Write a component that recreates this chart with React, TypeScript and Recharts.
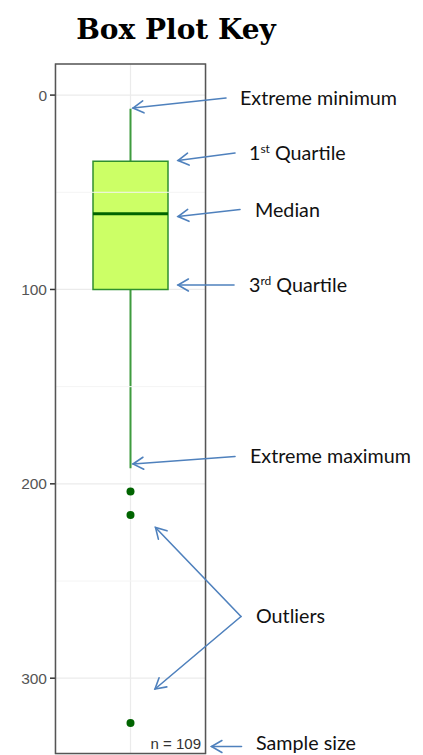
import { Bar, CartesianGrid, ComposedChart, ReferenceLine, Scatter, XAxis, YAxis } from 'recharts'

// box plot values
const categories = ['sample']
const whisker = [7, 192]
const quartiles = [34, 100]
const median = 61
const outliers = [204, 216, 323]
const sampleSize = 109

const yTicks = [0, 100, 200, 300]
const minorTicks = [50, 150, 250]

const BOX_FILL = '#ccff66'
const BOX_STROKE = '#2f8f2f'
const WHISKER = '#3f9b3f'
const DARK_GREEN = '#006400'
const ARROW = '#4f81bd'

const data = categories.map((label) => ({ label, whisker, box: quartiles }))
const medianPoints = [{ x: 1, y: median }]
const outlierPoints = outliers.map((y) => ({ x: 1, y }))

const CHART_W = 415
const CHART_H = 747
const margin = { top: 56, right: 217, bottom: 1, left: 0 }
const Y_AXIS_W = 47
const BOX_W = 75

function WhiskerShape(props: any) {
  const { x, y, width, height } = props
  const cx = x + width / 2
  return <line x1={cx} x2={cx} y1={y} y2={y + height} stroke={WHISKER} strokeWidth={2} />
}

function MedianShape(props: any) {
  const { cx, cy } = props
  return <line x1={cx - BOX_W / 2} x2={cx + BOX_W / 2} y1={cy} y2={cy} stroke={DARK_GREEN} strokeWidth={3} />
}

function Dot(props: any) {
  return <circle cx={props.cx} cy={props.cy} r={4} fill={DARK_GREEN} />
}

function Arrow({ from, to }: { from: [number, number]; to: [number, number] }) {
  const ang = Math.atan2(to[1] - from[1], to[0] - from[0])
  const len = 12
  const spread = Math.PI / 6
  const l1 = [to[0] - len * Math.cos(ang - spread), to[1] - len * Math.sin(ang - spread)]
  const l2 = [to[0] - len * Math.cos(ang + spread), to[1] - len * Math.sin(ang + spread)]
  return (
    <g stroke={ARROW} strokeWidth={1.6} fill="none" strokeLinecap="round">
      <line x1={from[0]} y1={from[1]} x2={to[0]} y2={to[1]} />
      <polyline points={`${l1[0]},${l1[1]} ${to[0]},${to[1]} ${l2[0]},${l2[1]}`} />
    </g>
  )
}

const labelStyle = { fontFamily: 'Lato, sans-serif', fontSize: 19.7, fill: '#111' }

function Annotations() {
  return (
    <svg
      width={CHART_W}
      height={CHART_H}
      style={{ position: 'absolute', left: 0, top: 0, pointerEvents: 'none', overflow: 'visible' }}
    >
      {/* page coordinates, body margin is 8px */}
      <g transform="translate(-8,-8)">
        <text x={176} y={39} textAnchor="middle" fontFamily="'DejaVu Serif', serif" fontWeight="bold" fontSize={28}>
          Box Plot Key
        </text>

        <rect x={55.5} y={64} width={150} height={689.5} fill="none" stroke="#555" strokeWidth={1.5} />
        <text x={201} y={748.5} textAnchor="end" fontFamily="'Liberation Sans', Arial, sans-serif" fontSize={15} fill="#333">
          n = {sampleSize}
        </text>

        <Arrow from={[226, 98]} to={[133, 108]} />
        <Arrow from={[235, 153]} to={[178, 160.5]} />
        <Arrow from={[240, 209.5]} to={[178, 216.5]} />
        <Arrow from={[234, 285]} to={[178, 285]} />
        <Arrow from={[235, 456.5]} to={[133, 464]} />
        <Arrow from={[241, 616.5]} to={[155.5, 527.5]} />
        <Arrow from={[241, 616.5]} to={[155, 689]} />
        <Arrow from={[241.5, 746.5]} to={[211.5, 746.5]} />

        <text x={240} y={105} {...labelStyle}>Extreme minimum</text>
        <text x={249} y={160} {...labelStyle}>
          1<tspan dy={-7} fontSize={12}>st</tspan>
          <tspan dy={7}> Quartile</tspan>
        </text>
        <text x={255} y={216.5} {...labelStyle}>Median</text>
        <text x={249} y={291.5} {...labelStyle}>
          3<tspan dy={-7} fontSize={12}>rd</tspan>
          <tspan dy={7}> Quartile</tspan>
        </text>
        <text x={250} y={463} {...labelStyle}>Extreme maximum</text>
        <text x={256} y={622.5} {...labelStyle}>Outliers</text>
        <text x={256} y={750} {...labelStyle}>Sample size</text>
      </g>
    </svg>
  )
}

export default function App() {
  return (
    <div style={{ position: 'relative', width: CHART_W, height: CHART_H }}>
      <ComposedChart width={CHART_W} height={CHART_H} data={data} margin={margin}>
        <XAxis dataKey="label" hide />
        <XAxis dataKey="label" xAxisId="w" hide />
        <XAxis dataKey="x" xAxisId="pts" type="number" domain={[0, 2]} ticks={[1]} hide />
        <YAxis
          dataKey="y"
          type="number"
          reversed
          domain={[-16, 339]}
          allowDataOverflow
          ticks={yTicks}
          interval={0}
          width={Y_AXIS_W}
          axisLine={false}
          tickSize={5}
          tickMargin={3}
          tickLine={{ stroke: '#333', strokeWidth: 1.5 }}
          tick={{ fill: '#555', fontSize: 15.5, fontFamily: "'Liberation Sans', Arial, sans-serif" }}
        />
        <CartesianGrid xAxisId="pts" stroke="#ebebeb" strokeWidth={1.2} />
        {minorTicks.map((v) => (
          <ReferenceLine key={v} y={v} stroke="#f4f4f4" strokeWidth={1} />
        ))}
        <Bar dataKey="whisker" xAxisId="w" barSize={BOX_W} shape={WhiskerShape} isAnimationActive={false} />
        <Bar
          dataKey="box"
          barSize={BOX_W}
          fill={BOX_FILL}
          stroke={BOX_STROKE}
          strokeWidth={1.5}
          isAnimationActive={false}
        />
        <Scatter data={medianPoints} xAxisId="pts" shape={MedianShape} isAnimationActive={false} />
        <Scatter data={outlierPoints} xAxisId="pts" shape={Dot} isAnimationActive={false} />
      </ComposedChart>
      <Annotations />
    </div>
  )
}
